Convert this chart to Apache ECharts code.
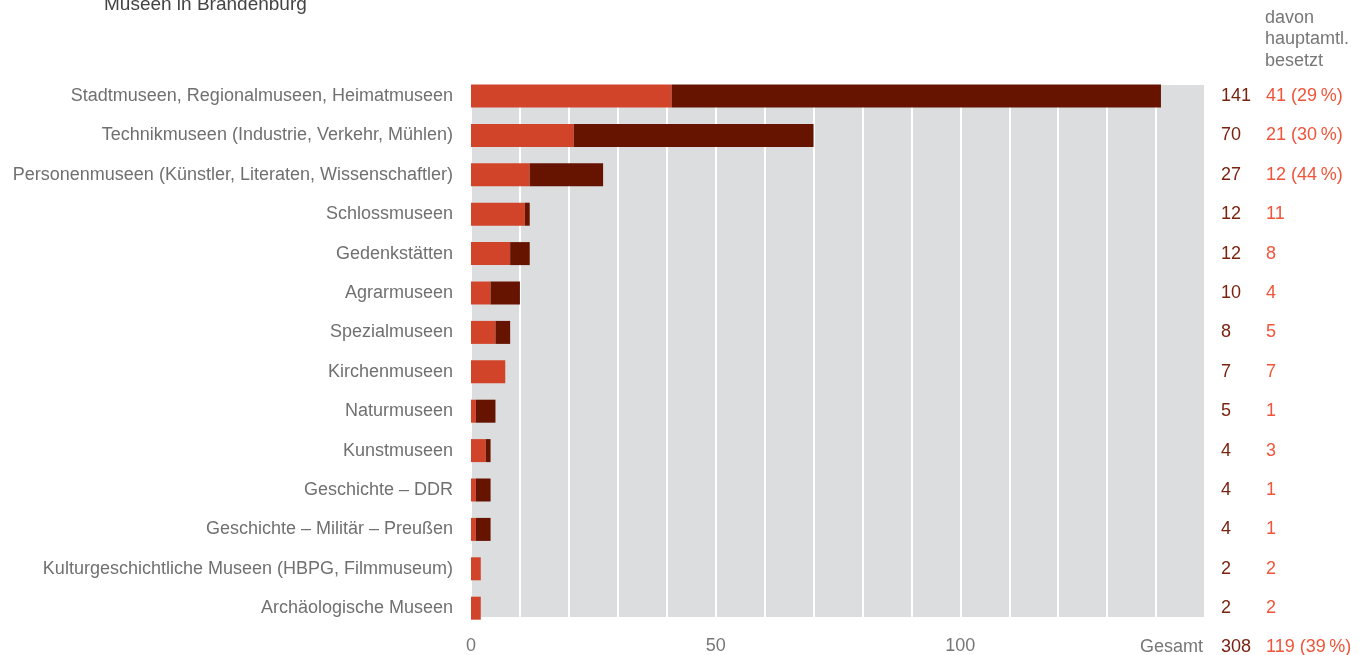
<!DOCTYPE html>
<html>
<head>
<meta charset="utf-8">
<script src="https://cdn.jsdelivr.net/npm/echarts@6/dist/echarts.min.js"></script>
<style>
  html, body { margin: 0; padding: 0; background: #fff; }
  #chart { width: 1366px; height: 655px; }
</style>
</head>
<body>
<div id="chart"></div>
<script>
const categories = [
  'Stadtmuseen, Regionalmuseen, Heimatmuseen',
  'Technikmuseen (Industrie, Verkehr, Mühlen)',
  'Personenmuseen (Künstler, Literaten, Wissenschaftler)',
  'Schlossmuseen',
  'Gedenkstätten',
  'Agrarmuseen',
  'Spezialmuseen',
  'Kirchenmuseen',
  'Naturmuseen',
  'Kunstmuseen',
  'Geschichte – DDR',
  'Geschichte – Militär – Preußen',
  'Kulturgeschichtliche Museen (HBPG, Filmmuseum)',
  'Archäologische Museen'
]
const totals = [141, 70, 27, 12, 12, 10, 8, 7, 5, 4, 4, 4, 2, 2]
const fulltime = [41, 21, 12, 11, 8, 4, 5, 7, 1, 3, 1, 1, 2, 2]
const showPct = [true, true, true, false, false, false, false, false, false, false, false, false, false, false]
const xTicks = [0, 50, 100]

const rest = totals.map((t, i) => t - fulltime[i])
const sumTotal = totals.reduce((a, b) => a + b, 0)
const sumFull = fulltime.reduce((a, b) => a + b, 0)
const pct = (a, b) => Math.round(a / b * 100) + '\u2009%'

const FONT = '"Liberation Sans", Arial, Helvetica, sans-serif'
const FS = 18
const RED = '#d2442a'
const DARK = '#661400'
const TOTAL_C = '#7a2410'
const FULL_C = '#f0553a'

const chart = echarts.init(document.getElementById('chart'))
chart.setOption({
  backgroundColor: '#fff',
  animation: false,
  textStyle: { fontFamily: FONT },
  title: {
    text: 'Museen in Brandenburg',
    left: 99,
    top: -10,
    textStyle: { color: '#444', fontSize: 19, fontWeight: 'normal', fontFamily: FONT }
  },
  grid: [
    // grey plot background with grid lines
    { left: 471, right: 161, top: 85, bottom: 35, show: true, backgroundColor: '#dcdddf', borderWidth: 0 },
    // bars
    { left: 471, right: 161, top: 76.3, height: 551.6 }
  ],
  xAxis: [{
    gridIndex: 0,
    type: 'value',
    min: 0,
    max: 150,
    interval: 10,
    axisLine: { show: false },
    axisTick: { show: false },
    splitLine: { lineStyle: { color: '#fff', width: 2 } },
    axisLabel: {
      margin: 20,
      color: '#777',
      fontSize: FS,
      fontFamily: FONT,
      formatter: v => xTicks.indexOf(v) >= 0 ? String(v) : ''
    }
  }, {
    gridIndex: 1,
    type: 'value',
    min: 0,
    max: 150,
    show: false
  }],
  yAxis: [{
    gridIndex: 0,
    type: 'value',
    show: false
  }, {
    gridIndex: 1,
    type: 'category',
    data: categories,
    inverse: true,
    axisLine: { show: false },
    axisTick: { show: false },
    axisLabel: { margin: 18, color: '#707070', fontSize: FS, fontFamily: FONT }
  }, {
    gridIndex: 1,
    type: 'category',
    data: categories,
    inverse: true,
    position: 'right',
    axisLine: { show: false },
    axisTick: { show: false },
    axisLabel: {
      margin: 16,
      align: 'left',
      fontFamily: FONT,
      formatter: (v, i) => {
        const f = fulltime[i] + (showPct[i] ? ' (' + pct(fulltime[i], totals[i]) + ')' : '')
        return '{t|' + totals[i] + '}{f|' + f + '}'
      },
      rich: {
        t: { color: TOTAL_C, fontSize: FS, width: 45, fontFamily: FONT },
        f: { color: FULL_C, fontSize: FS, fontFamily: FONT }
      }
    }
  }],
  series: [{
    name: 'hauptamtlich',
    type: 'bar',
    stack: 'all',
    xAxisIndex: 1,
    yAxisIndex: 1,
    barWidth: 23,
    itemStyle: { color: RED },
    data: fulltime
  }, {
    name: 'ehrenamtlich',
    type: 'bar',
    stack: 'all',
    xAxisIndex: 1,
    yAxisIndex: 1,
    barWidth: 23,
    itemStyle: { color: DARK },
    data: rest
  }],
  graphic: [{
    type: 'text',
    left: 1265,
    top: 7,
    style: {
      text: 'davon\nhauptamtl.\nbesetzt',
      fill: '#777',
      font: FS + 'px ' + FONT,
      lineHeight: 21.5
    }
  }, {
    type: 'text',
    right: 1366 - 1203,
    top: 638,
    style: { text: 'Gesamt', fill: '#777', font: FS + 'px ' + FONT }
  }, {
    type: 'text',
    left: 1221,
    top: 638,
    style: { text: String(sumTotal), fill: TOTAL_C, font: FS + 'px ' + FONT }
  }, {
    type: 'text',
    left: 1266,
    top: 638,
    style: { text: sumFull + ' (' + pct(sumFull, sumTotal) + ')', fill: FULL_C, font: FS + 'px ' + FONT }
  }]
})
</script>
</body>
</html>
